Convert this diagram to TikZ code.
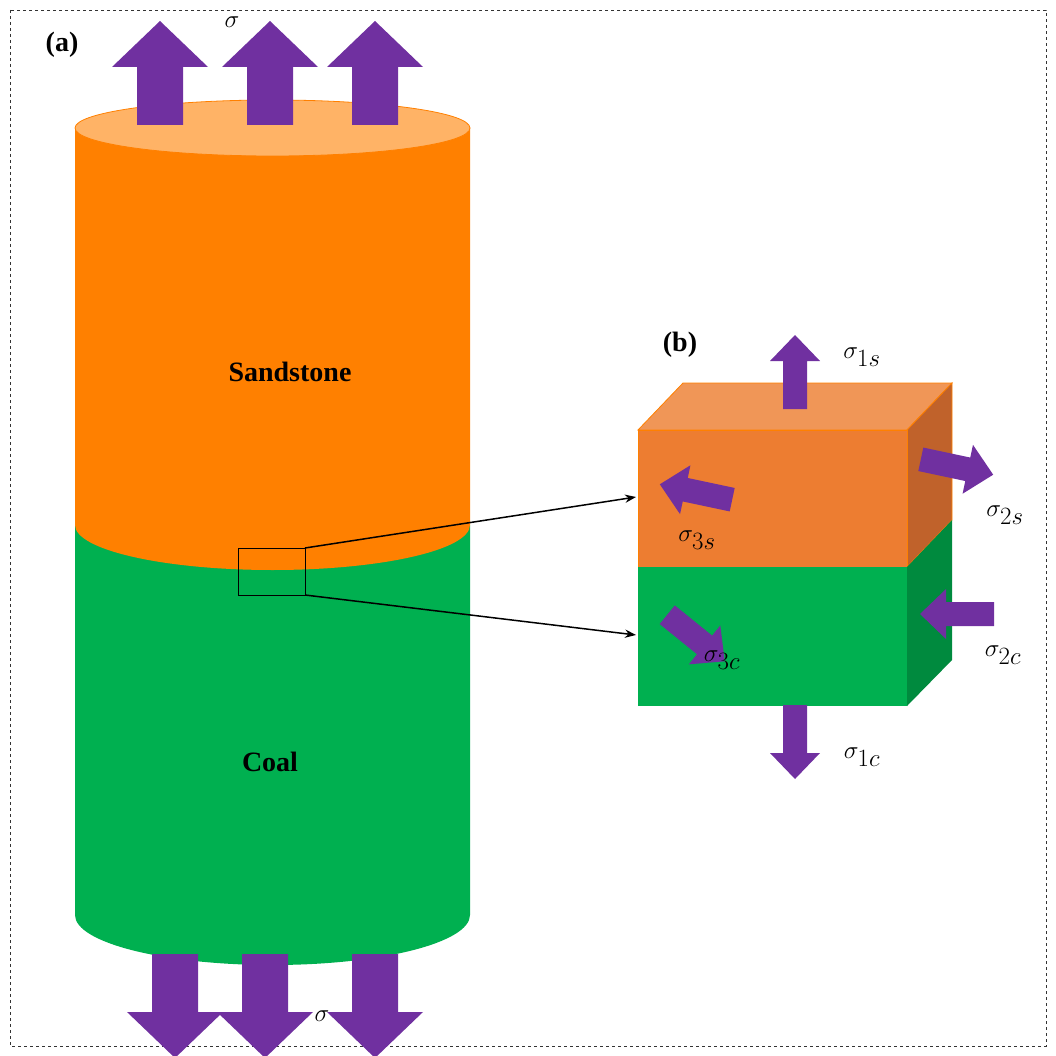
\documentclass[tikz,border=0pt]{standalone}
\usepackage{fontspec}
\setmainfont{Liberation Serif}
\usetikzlibrary{arrows.meta}
\definecolor{pur}{HTML}{7030A0}
\definecolor{orc}{HTML}{FF8000}
\definecolor{ort}{HTML}{FFB366}
\definecolor{grc}{HTML}{00B050}
\definecolor{bo1}{HTML}{ED7D31}
\definecolor{bo2}{HTML}{F09657}
\definecolor{bo3}{HTML}{C0622B}
\definecolor{bg2}{HTML}{008A3E}
% #1 pos, #2 angle, #3 length, #4 half shaft, #5 half head, #6 head length
\newcommand\blkarr[6]{%
 \fill[pur,shift={#1},rotate=#2] (-#3/2,-#4) -- (#3/2-#6,-#4) -- (#3/2-#6,-#5) -- (#3/2,0)
   -- (#3/2-#6,#5) -- (#3/2-#6,#4) -- (-#3/2,#4) -- cycle;}
\tikzset{
 lab/.style={font=\fontsize{36}{36}\selectfont},
 ttl/.style={font=\bfseries\fontsize{28}{30}\selectfont},
}
\begin{document}
\begin{tikzpicture}[x=1pt,y=-1pt]
\useasboundingbox (0,0) rectangle (1056,1056);
\draw[dashed,thick,black!80] (10,10) rectangle (1046,1046);
% cylinder coal
\fill[grc] (75,525) -- (75,915) arc[start angle=180,end angle=360,x radius=197.5,y radius=-50] -- (470,525) -- cycle;
% sandstone
\fill[orc] (75,128) -- (75,525) arc[start angle=180,end angle=360,x radius=197.5,y radius=-45] -- (470,128) -- cycle;
\fill[ort,draw=orc,thick] (272.5,128) ellipse[x radius=197.5,y radius=28];
\node[ttl] (sand) at (290,372) {Sandstone};
\node[ttl] (coal) at (270,762) {Coal};
\node[ttl] (a) at (62,45) {(a)};
% top/bottom arrows
\foreach \x in {160,270,375}{\blkarr{(\x,73)}{90}{104}{23}{48}{46}}
\foreach \x in {175,265,375}{\blkarr{(\x,1006)}{-90}{104}{23}{48}{46}}
\node[lab] (st) at (232,22) {$\sigma$};
\node[lab] (sb) at (322,1016) {$\sigma$};
% zoom rectangle
\draw[thick] (238,548) rectangle (305,595);
\coordinate (z1) at (305,548); \coordinate (z2) at (305,595);
% box
\fill[bo2,draw=orc,thick] (638,430) -- (683,383) -- (952,383) -- (907,430) -- cycle;
\fill[bo3,draw=orc,thick] (907,430) -- (952,383) -- (952,520) -- (907,567) -- cycle;
\fill[bo1,draw=orc,thick] (638,430) rectangle (907,567);
\fill[bg2] (907,567) -- (952,520) -- (952,660) -- (907,706) -- cycle;
\fill[grc] (638,567) rectangle (907,706);
\coordinate (e1) at (636,497); \coordinate (e2) at (636,635);
\draw[-{Stealth[length=11pt]},line width=1.5pt] (z1) -- (e1);
\draw[-{Stealth[length=11pt]},line width=1.5pt] (z2) -- (e2);
\node[ttl] (bl) at (680,345) {(b)};
% box arrows
\blkarr{(795,372)}{90}{74}{12}{25}{26}
\blkarr{(795,742)}{-90}{74}{12}{25}{26}
\blkarr{(957,467)}{-12}{74}{12}{25}{26}
\blkarr{(696,492)}{168}{74}{12}{25}{26}
\blkarr{(957,614)}{180}{74}{12}{25}{26}
\blkarr{(696,638)}{-39}{74}{12}{25}{26}
\node[lab] (l1s) at (862,357) {$\sigma_{1s}$};
\node[lab] (l2s) at (1005,515) {$\sigma_{2s}$};
\node[lab] (l3s) at (697,540) {$\sigma_{3s}$};
\node[lab] (l3c) at (722,660) {$\sigma_{3c}$};
\node[lab] (l2c) at (1003,655) {$\sigma_{2c}$};
\node[lab] (l1c) at (862,757) {$\sigma_{1c}$};
\end{tikzpicture}
\end{document}
